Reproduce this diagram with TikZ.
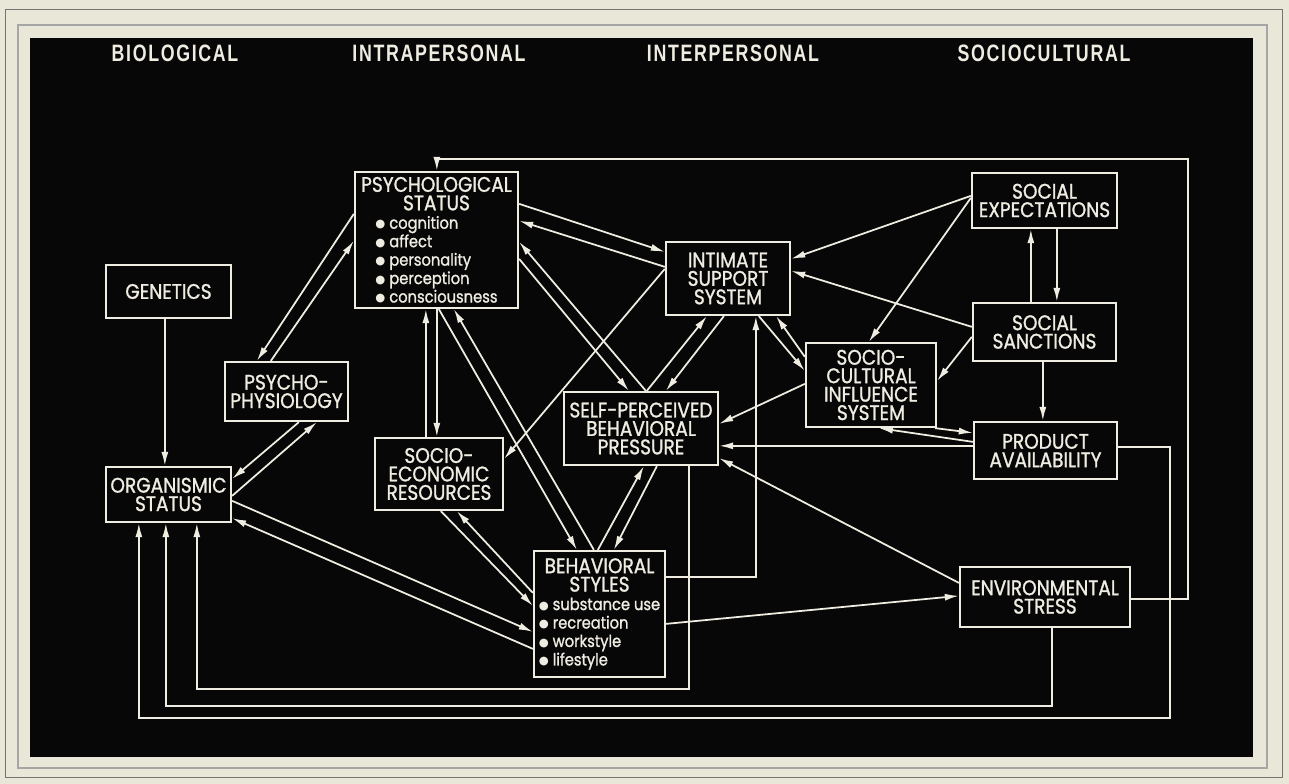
\documentclass[tikz,border=0pt]{standalone}
\usepackage{fontspec}
\setmainfont{Poppins}[FakeStretch=0.88,FakeBold=1.2]
\newfontfamily\headfont[FakeStretch=0.75,LetterSpace=7]{Liberation Sans}
\newfontfamily\dotfont{DejaVu Sans}
\usetikzlibrary{arrows.meta,calc}

\definecolor{chalk}{HTML}{EFEDE2}
\definecolor{board}{HTML}{070707}
\definecolor{paper}{HTML}{E9E7D8}

\newlength\listwd
\newcommand\itemfont{\fontsize{9.5}{10.5}\selectfont}
\newcommand\dotmark{\raisebox{0.5pt}{\dotfont\fontsize{6.5}{6.5}\selectfont ●}}
\newcommand\setlist[1]{\setbox0=\hbox{\itemfont\dotmark\ #1}\global\listwd=\wd0\relax}
\newcommand\bul[1]{\makebox[\listwd][l]{\itemfont\dotmark\ #1}}

\begin{document}
\begin{tikzpicture}[
    x=0.02cm, y=-0.02cm,
    box/.style={draw=chalk, line width=1.3pt, fill=board, text=chalk, inner sep=0pt,
      align=center, font=\fontsize{12}{10.5}\selectfont},
    sz/.style 2 args={minimum width=#1*0.02cm, minimum height=#2*0.02cm},
    head/.style={text=chalk, font=\headfont\bfseries\fontsize{13.5}{14}\selectfont},
    arr/.style={draw=chalk, line width=1pt, -{Latex[length=8pt,width=4pt]}}
  ]
    \useasboundingbox (0,0) rectangle (1289,784);
    \fill[paper] (0,0) rectangle (1289,784);
    \draw[black!55, line width=0.5pt] (5,9) rectangle (1282,777);
    \draw[black!35, line width=0.8pt] (18,25) rectangle (1267,768);
    \fill[board] (30,38) rectangle (1253,757);

    \node[head] (hbio) at (175,53) {BIOLOGICAL};
    \node[head] (hintra) at (439,53) {INTRAPERSONAL};
    \node[head] (hinter) at (733,53) {INTERPERSONAL};
    \node[head] (hsocio) at (1044,53) {SOCIOCULTURAL};

    \node[box, sz={125}{53}] (gen) at (168.5,291.5) {GENETICS};
    \node[box, sz={123}{59}] (pphys) at (286.5,391.5) {PSYCHO-\\PHYSIOLOGY};
    \node[box, sz={125}{55}] (org) at (168.5,494.5) {ORGANISMIC\\STATUS};
    \node[box, sz={163}{136}] (psych) at (436.5,240) {\setlist{consciousness}PSYCHOLOGICAL\\STATUS\\\bul{cognition}\\\bul{affect}\\\bul{personality}\\\bul{perception}\\\bul{consciousness}};
    \node[box, sz={124}{73}] (intim) at (728,278.5) {INTIMATE\\SUPPORT\\SYSTEM};
    \node[box, sz={145}{55}] (expect) at (1044.5,200.5) {SOCIAL\\EXPECTATIONS};
    \node[box, sz={143}{58}] (sanct) at (1044.5,332) {SOCIAL\\SANCTIONS};
    \node[box, sz={130}{84}] (scult) at (871,385) {SOCIO-\\CULTURAL\\INFLUENCE\\SYSTEM};
    \node[box, sz={143}{57}] (prod) at (1045.5,450.5) {PRODUCT\\AVAILABILITY};
    \node[box, sz={154}{73}] (selfp) at (641,428.5) {SELF-PERCEIVED\\BEHAVIORAL\\PRESSURE};
    \node[box, sz={128}{72}] (secon) at (439,474) {SOCIO-\\ECONOMIC\\RESOURCES};
    \node[box, sz={131}{126}] (behav) at (599.5,614) {\setlist{substance use}BEHAVIORAL\\STYLES\\\bul{substance use}\\\bul{recreation}\\\bul{workstyle}\\\bul{lifestyle}};
    \node[box, sz={170}{60}] (env) at (1045,597) {ENVIRONMENTAL\\STRESS};

    \draw[arr] ($(gen.south west)+(60,0)$) -- ($(org.north west)+(60,0)$);
    \draw[arr] ($(psych.north west)+(0,43)$) -- ($(pphys.north west)+(33,0)$);
    \draw[arr] ($(pphys.north west)+(47,0)$) -- ($(psych.north west)+(0,70)$);
    \draw[arr] ($(pphys.south west)+(75,0)$) -- ($(org.north east)+(0,13)$);
    \draw[arr] ($(org.north east)+(0,30)$) -- ($(pphys.south west)+(93,0)$);
    \draw[arr] ($(org.north east)+(0,35)$) -- ($(behav.north west)+(0,82)$);
    \draw[arr] ($(behav.north west)+(0,99)$) -- ($(org.south east)+(0,-5)$);

    \draw[arr] ($(psych.north east)+(0,33)$) -- ($(intim.north west)+(0,11)$);
    \draw[arr] ($(intim.north west)+(0,26)$) -- ($(psych.north east)+(0,50)$);
    \draw[arr] ($(intim.north west)+(0,28)$) -- ($(secon.north east)+(0,22)$);
    \draw[arr] ($(psych.north east)+(0,88)$) -- ($(selfp.north west)+(66,0)$);
    \draw[arr] ($(selfp.north west)+(83,0)$) -- ($(psych.north east)+(0,71)$);
    \draw[arr] ($(psych.south west)+(85,0)$) -- ($(behav.north west)+(44,0)$);
    \draw[arr] ($(behav.north west)+(61,0)$) -- ($(psych.south west)+(100,0)$);
    \draw[arr] ($(secon.north west)+(52,0)$) -- ($(psych.south west)+(72,0)$);
    \draw[arr] ($(psych.south west)+(83,0)$) -- ($(secon.north west)+(63,0)$);

    \draw[arr] ($(selfp.north west)+(84,0)$) -- ($(intim.south west)+(42,0)$);
    \draw[arr] ($(intim.south west)+(59,0)$) -- ($(selfp.north west)+(103,0)$);
    \draw[arr] ($(intim.south west)+(94,0)$) -- ($(scult.north west)+(0,29)$);
    \draw[arr] ($(scult.north west)+(0,15)$) -- ($(intim.south east)+(-15,0)$);
    \draw[arr] ($(scult.north west)+(0,42)$) -- ($(selfp.north east)+(0,33)$);

    \draw[arr] ($(expect.north west)+(0,24)$) -- ($(intim.north east)+(0,18)$);
    \draw[arr] ($(expect.north west)+(0,26)$) -- ($(scult.north west)+(64,0)$);
    \draw[arr] ($(sanct.north west)+(0,25)$) -- ($(intim.north east)+(0,30)$);
    \draw[arr] ($(sanct.north west)+(0,35)$) -- ($(scult.north east)+(0,39)$);
    \draw[arr] ($(sanct.north west)+(59,0)$) -- ($(expect.south west)+(60,0)$);
    \draw[arr] ($(expect.south west)+(86,0)$) -- ($(sanct.north west)+(85,0)$);
    \draw[arr] ($(sanct.south west)+(71,0)$) -- ($(prod.north west)+(70,0)$);
    \draw[arr] ($(scult.south east)+(-2,0)$) -- ($(prod.north west)+(0,12)$);
    \draw[arr] ($(prod.north west)+(0,21)$) -- ($(scult.south west)+(74,0)$);
    \draw[arr] ($(prod.north west)+(0,25)$) -- ($(selfp.north east)+(0,55)$);
    \draw[arr] ($(env.north west)+(0,17)$) -- ($(selfp.south east)+(0,-8)$);

    \draw[arr] ($(behav.north east)+(0,74)$) -- ($(env.north west)+(0,30)$);
    \draw[arr] ($(behav.north west)+(65,0)$) -- ($(selfp.south west)+(81,0)$);
    \draw[arr] ($(selfp.south west)+(94,0)$) -- ($(behav.north west)+(81,0)$);
    \draw[arr] ($(secon.south west)+(67,0)$) -- ($(behav.north west)+(0,56)$);
    \draw[arr] ($(behav.north west)+(0,43)$) -- ($(secon.south west)+(83,0)$);
    \draw[arr] ($(behav.north east)+(0,27)$) -| ($(intim.south west)+(91,0)$);

    \draw[arr] ($(selfp.south west)+(126,0)$) -- ++(0,223) -| ($(org.south west)+(92,0)$);
    \draw[arr] ($(env.south west)+(93,0)$) -- ++(0,78) -| ($(org.south west)+(61,0)$);
    \draw[arr] ($(prod.north east)+(0,26)$) -- ++(52,0) -- ++(0,271) -| ($(org.south west)+(34,0)$);
    \draw[arr] ($(env.north east)+(0,33)$) -- ++(57,0) -- ++(0,-440) -| ($(psych.north west)+(83,0)$);
  \end{tikzpicture}
\end{document}
